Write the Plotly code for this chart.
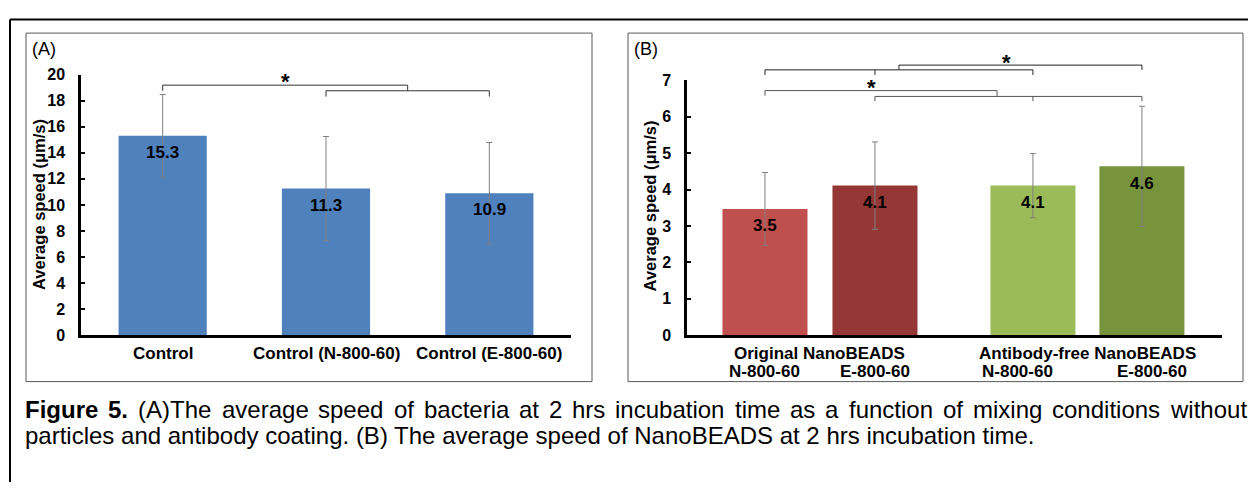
import plotly.graph_objects as go

W, H = 1248, 491
FONT = "Liberation Sans, Arial, sans-serif"

# ---------------- data ----------------
a_categories = ["Control", "Control (N-800-60)", "Control (E-800-60)"]
a_speed = [15.3, 11.26, 10.9]
a_err = [3.17, 3.99, 3.89]
a_yticks = [0, 2, 4, 6, 8, 10, 12, 14, 16, 18, 20]

b_groups = ["Original NanoBEADS", "Antibody-free NanoBEADS"]
b_conditions = ["N-800-60", "E-800-60", "N-800-60", "E-800-60"]
b_speed = [3.47, 4.11, 4.11, 4.64]
b_err = [1.0, 1.2, 0.88, 1.65]
b_yticks = [0, 1, 2, 3, 4, 5, 6, 7]

y_title = "Average speed (μm/s)"
caption1_bold = ["Figure", "5."]
caption1_words = ["(A)The", "average", "speed", "of", "bacteria", "at", "2", "hrs",
                  "incubation", "time", "as", "a", "function", "of", "mixing",
                  "conditions", "without"]
caption2 = "particles and antibody coating. (B) The average speed of NanoBEADS at 2 hrs incubation time."

# ---------------- layout helpers ----------------
a_color = "#4F81BD"
b_colors = ["#C0504D", "#953735", "#9BBB59", "#77933C"]
b_pos = [0, 1, 2.436, 3.427]          # bar slots on the numeric x axis of panel B
b_label_pos = [0, 1, 2.3, 3.52]        # sub-label slots

def px(x):
    return x / W

def py(y):
    return (H - y) / H

A_X = [px(81), px(571)]
A_Y = [py(339), py(69)]
B_X = [px(687), px(1222)]
B_Y = [py(339), py(75)]
A_MAX, B_MAX = 20, 7

fig = go.Figure()

fig.add_trace(go.Bar(
    x=a_categories, y=a_speed, width=0.54,
    marker=dict(color=a_color, line=dict(width=0)),
    error_y=dict(type="data", array=a_err, color="#7f7f7f", thickness=1, width=3),
    xaxis="x", yaxis="y", showlegend=False, hoverinfo="skip",
))

fig.add_trace(go.Bar(
    x=b_pos, y=b_speed, width=0.773,
    marker=dict(color=b_colors, line=dict(width=0)),
    error_y=dict(type="data", array=b_err, color="#7f7f7f", thickness=1, width=3),
    xaxis="x2", yaxis="y2", showlegend=False, hoverinfo="skip",
))

axis_common = dict(showgrid=False, zeroline=False, showline=True, linecolor="black",
                   linewidth=2.5)

fig.update_layout(
    width=W, height=H, margin=dict(l=0, r=0, t=0, b=0),
    paper_bgcolor="white", plot_bgcolor="rgba(0,0,0,0)",
    font=dict(family=FONT, color="black"),
    xaxis=dict(domain=A_X, anchor="y", range=[-0.5, 2.5], ticks="",
               showticklabels=False, **axis_common),
    yaxis=dict(domain=A_Y, anchor="x", range=[0, A_MAX], tickvals=a_yticks,
               ticks="inside", ticklen=4, tickwidth=2, tickcolor="black",
               tickfont=dict(size=16, weight="bold"), ticklabelstandoff=10, **axis_common),
    xaxis2=dict(domain=B_X, anchor="y2", range=[-0.709, 4.155], ticks="",
                showticklabels=False, **axis_common),
    yaxis2=dict(domain=B_Y, anchor="x2", range=[0, B_MAX], tickvals=b_yticks,
                ticks="inside", ticklen=4, tickwidth=2, tickcolor="black",
                tickfont=dict(size=16, weight="bold"), ticklabelstandoff=10, **axis_common),
)

shapes = []
annotations = []

def note(**kw):
    kw.setdefault("showarrow", False)
    kw.setdefault("xanchor", "center")
    kw.setdefault("yanchor", "middle")
    annotations.append(kw)

# category labels and value labels
for cat in a_categories:
    note(x=cat, y=py(358), xref="x", yref="paper", text=cat,
         font=dict(size=17, weight="bold"))
for cat, v in zip(a_categories, a_speed):
    note(x=cat, y=v, xref="x", yref="y", text=f"{v:.1f}", yshift=-16.5,
         font=dict(size=17, weight="bold"))
for xp, v in zip(b_pos, b_speed):
    note(x=xp, y=v, xref="x2", yref="y2", text=f"{v:.1f}", yshift=-17,
         font=dict(size=17, weight="bold"))

# outer frame & panel boxes
shapes.append(dict(type="line", xref="paper", yref="paper", x0=px(10), x1=1.0,
                   y0=py(12), y1=py(12), line=dict(color="black", width=2)))
shapes.append(dict(type="line", xref="paper", yref="paper", x0=px(10), x1=px(10),
                   y0=py(12), y1=0, line=dict(color="black", width=2)))
for x0, x1 in [(26, 592), (628, 1243)]:
    shapes.append(dict(type="rect", xref="paper", yref="paper", x0=px(x0), x1=px(x1),
                       y0=py(387), y1=py(26), line=dict(color="#595959", width=1)))

# significance brackets (x in axis units, y in data units -> axis-domain fraction)
def bracket(xs, ys, xref, yref, ymax, color):
    for i in range(len(xs) - 1):
        shapes.append(dict(type="line", xref=xref, yref=yref + " domain",
                           x0=xs[i], x1=xs[i + 1], y0=ys[i] / ymax, y1=ys[i + 1] / ymax,
                           line=dict(color=color, width=1)))

bracket([1, 1, 2, 2], [18.31, 18.76, 18.76, 18.31], "x", "y", A_MAX, "#333333")
bracket([0, 0, 1.5, 1.5], [18.76, 19.19, 19.19, 18.76], "x", "y", A_MAX, "#333333")

bracket([b_pos[0], b_pos[0], b_pos[2], b_pos[2]], [7.15, 7.29, 7.29, 7.15], "x2", "y2", B_MAX, "#222222")
bracket([b_pos[1], b_pos[1]], [7.29, 7.15], "x2", "y2", B_MAX, "#222222")
mid_up = (b_pos[0] + b_pos[2]) / 2
bracket([mid_up, mid_up, b_pos[3], b_pos[3]], [7.29, 7.42, 7.42, 7.29], "x2", "y2", B_MAX, "#222222")
bracket([b_pos[1], b_pos[1], b_pos[3], b_pos[3]], [6.43, 6.56, 6.56, 6.43], "x2", "y2", B_MAX, "#555555")
bracket([b_pos[2], b_pos[2]], [6.56, 6.43], "x2", "y2", B_MAX, "#555555")
bracket([b_pos[0], b_pos[0], 2.11, 2.11], [6.58, 6.72, 6.72, 6.56], "x2", "y2", B_MAX, "#555555")

for x, y, xr, yr, ymax in [(0.75, 19.45, "x", "y", A_MAX), (2.2, 7.48, "x2", "y2", B_MAX),
                           (0.97, 6.81, "x2", "y2", B_MAX)]:
    note(x=x, y=y / ymax, xref=xr, yref=yr + " domain", text="<b>*</b>",
         font=dict(size=22, color="black"))

# panel labels & y titles
for x, lab in [(44, "(A)"), (646, "(B)")]:
    note(x=px(x), y=py(42.5), xref="paper", yref="paper", text=lab, font=dict(size=18))
for x, yc in [(39.5, 203.5), (650, 205.5)]:
    note(x=px(x), y=py(yc), xref="paper", yref="paper", text=y_title, textangle=-90,
         font=dict(size=16.5, weight="bold"))

# panel B x labels
for g, grp in enumerate(b_groups):
    xc = (b_pos[2 * g] + b_pos[2 * g + 1]) / 2
    note(x=xc, y=py(358), xref="x2", yref="paper", text=grp,
         font=dict(size=17, weight="bold"))
for xp, cond in zip(b_label_pos, b_conditions):
    note(x=xp, y=py(377), xref="x2", yref="paper", text=cond,
         font=dict(size=17, weight="bold"))

# caption: first line justified between the margins (Arial / Liberation Sans metrics)
CAP_SIZE = 24
REG = {' ': 278, '(': 333, ')': 333, '.': 278, '2': 556, '5': 556, 'A': 667, 'B': 667,
       'D': 722, 'E': 667, 'F': 611, 'N': 722, 'S': 667, 'T': 611, 'a': 556, 'b': 556,
       'c': 500, 'd': 556, 'e': 556, 'f': 278, 'g': 556, 'h': 556, 'i': 222, 'k': 500,
       'l': 222, 'm': 833, 'n': 556, 'o': 556, 'p': 556, 'r': 333, 's': 500, 't': 278,
       'u': 556, 'v': 500, 'w': 722, 'x': 500, 'y': 500}
BOLD = {'F': 611, 'i': 278, 'g': 611, 'u': 611, 'r': 389, 'e': 556, '5': 556, '.': 278}

def width(word, table):
    return sum(table.get(c, 556) for c in word) * CAP_SIZE / 1000.0

tokens = [(w, True) for w in caption1_bold] + [(w, False) for w in caption1_words]
widths = [width(w, BOLD if b else REG) for w, b in tokens]
left, right = 24, 1245
gap = (right - left - sum(widths)) / (len(tokens) - 1)
cursor = left
for (w, b), wd in zip(tokens, widths):
    note(x=px(cursor - 1), y=py(416), xref="paper", yref="paper",
         text=f"<b>{w}</b>" if b else w, xanchor="left", font=dict(size=CAP_SIZE))
    cursor += wd + gap
note(x=px(left - 1), y=py(442.5), xref="paper", yref="paper", text=caption2,
     xanchor="left", font=dict(size=CAP_SIZE))

fig.update_layout(shapes=shapes, annotations=annotations)
fig.write_html("out.html")
